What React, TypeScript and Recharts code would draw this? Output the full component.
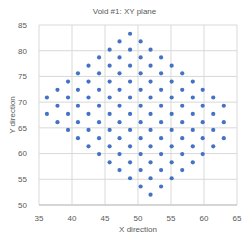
import React from "react";
import { ScatterChart, Scatter, XAxis, YAxis, CartesianGrid } from "recharts";

// Row y-values (top to bottom) and the x-values of the points on each row
const rowY: number[] = [83.3, 81.8, 80.2, 78.7, 77.1, 75.6, 74.0, 72.4, 70.9, 69.3, 67.7, 66.1, 64.6, 63.0, 61.4, 59.9, 58.3, 56.8, 55.2, 53.6, 52.0];
const rowX: number[][] = [
  [48.8],
  [47.2, 50.4],
  [45.7, 48.8, 51.9],
  [44.1, 47.2, 50.4, 53.5],
  [42.5, 45.7, 48.8, 51.9, 55.1],
  [40.9, 44.1, 47.2, 50.4, 53.5, 56.7],
  [39.4, 42.5, 45.7, 48.8, 51.9, 55.1, 58.3],
  [37.8, 40.9, 44.1, 47.2, 50.4, 53.5, 56.7, 59.8],
  [36.2, 39.4, 42.5, 45.7, 48.8, 51.9, 55.1, 58.3, 61.4],
  [37.8, 40.9, 44.1, 47.2, 50.4, 53.5, 56.7, 59.8, 63.0],
  [36.2, 39.4, 42.5, 45.7, 48.8, 51.9, 55.1, 58.3, 61.4],
  [37.8, 40.9, 44.1, 47.2, 50.4, 53.5, 56.7, 59.8, 63.0],
  [39.4, 42.5, 45.7, 48.8, 51.9, 55.1, 58.3, 61.4],
  [40.9, 44.1, 47.2, 50.4, 53.5, 56.7, 59.8, 63.0],
  [42.5, 45.7, 48.8, 51.9, 55.1, 58.3, 61.4],
  [44.1, 47.2, 50.4, 53.5, 56.7, 59.8],
  [45.7, 48.8, 51.9, 55.1, 58.3],
  [47.2, 50.4, 53.5, 56.7],
  [48.8, 51.9, 55.1],
  [50.4, 53.5],
  [51.9],
];
const xTicks: number[] = [35, 40, 45, 50, 55, 60, 65];
const yTicks: number[] = [50, 55, 60, 65, 70, 75, 80, 85];
const title = "Void #1: XY plane";
const xLabel = "X direction";
const yLabel = "Y direction";

const data = rowY.flatMap((y, i) => rowX[i].map((x) => ({ x, y })));

const FONT = "'Liberation Sans', Arial, sans-serif";
const TXT = "#595959";

const Dot = (p: any) => <circle cx={p.cx} cy={p.cy} r={2.1} fill="#4472C4" />;

export default function App() {
  return (
    <div style={{ position: "absolute", left: 0, top: 0, width: 249, height: 244, background: "#fff", fontFamily: FONT }}>
      <ScatterChart width={249} height={244} margin={{ top: 25, right: 12, left: 0, bottom: 0 }}>
        <CartesianGrid stroke="#d9d9d9" strokeWidth={1} />
        <XAxis
          type="number"
          dataKey="x"
          domain={[35, 65]}
          ticks={xTicks}
          height={39}
          axisLine={{ stroke: "#bfbfbf" }}
          tickLine={false}
          tick={{ fill: TXT, fontSize: 8, fontFamily: FONT }}
          tickMargin={4}
        />
        <YAxis
          type="number"
          dataKey="y"
          domain={[50, 85]}
          ticks={yTicks}
          width={39}
          axisLine={false}
          tickLine={false}
          tick={{ fill: TXT, fontSize: 8, fontFamily: FONT }}
          tickMargin={6}
        />
        <Scatter data={data} shape={Dot} isAnimationActive={false} />
      </ScatterChart>
      <div style={{ position: "absolute", left: 0, width: 249, top: 7, textAlign: "center", fontSize: 8, color: TXT, lineHeight: "10px" }}>
        {title}
      </div>
      <div style={{ position: "absolute", left: 39, width: 198, top: 225, textAlign: "center", fontSize: 8, color: TXT, lineHeight: "10px" }}>
        {xLabel}
      </div>
      <div
        style={{
          position: "absolute",
          left: 13 - 40,
          top: 115 - 5,
          width: 80,
          textAlign: "center",
          fontSize: 8,
          color: TXT,
          lineHeight: "10px",
          transform: "rotate(-90deg)",
          transformOrigin: "50% 50%",
        }}
      >
        {yLabel}
      </div>
    </div>
  );
}
